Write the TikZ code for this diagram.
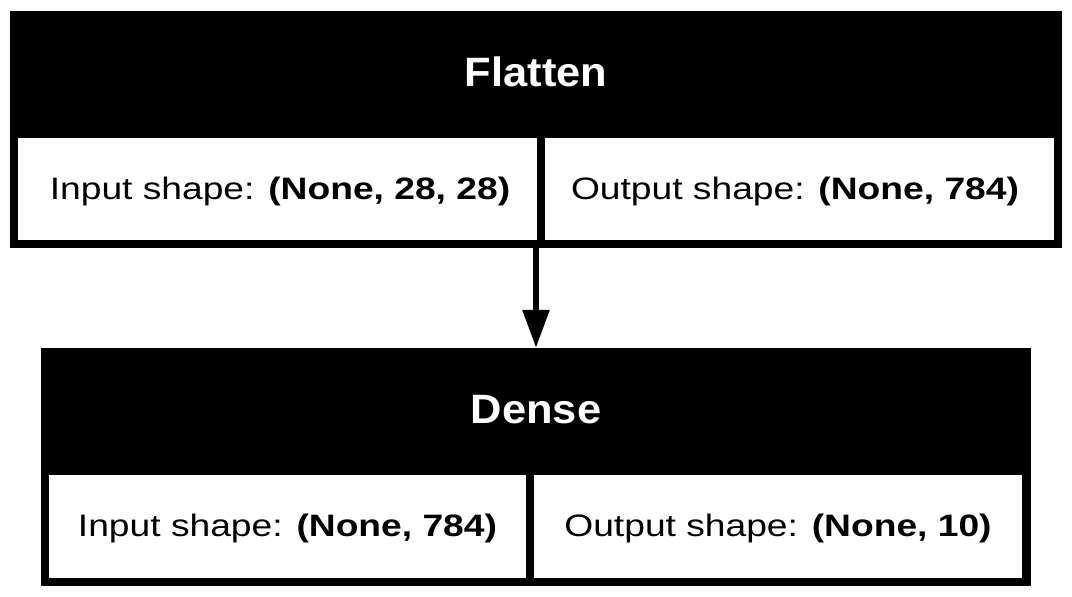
\documentclass[tikz,border=0pt]{standalone}
\usepackage{fontspec}
\usepackage{graphicx}
\setmainfont{Liberation Sans}
\usetikzlibrary{arrows.meta}
\newcommand{\celltxt}[1]{\scalebox{1.2}[1]{#1}}
\newcommand{\titletxt}[1]{\scalebox{1.06}[1]{#1}}
\tikzset{
  outerbox/.style={fill=black, draw=none, inner sep=0pt, minimum width=#1},
  cell/.style={fill=white, draw=none, inner sep=0pt},
  title/.style={text=white, inner sep=0pt, anchor=base, font=\fontsize{41}{48}\selectfont\bfseries},
  celltext/.style={inner sep=0pt, anchor=base, font=\fontsize{31}{37}\selectfont},
  conn/.style={line width=6pt, -{Triangle[length=38pt,width=26pt]}}
}
\begin{document}
\begin{tikzpicture}[x=1pt,y=-1pt]
\useasboundingbox (0,0) rectangle (1072,597);
% Flatten
\node[outerbox=1052pt, minimum height=237pt] (flatten) at (536,129.5) {};
\node[cell, minimum width=519pt, minimum height=102pt] (fin) at (277.5,189) {};
\node[cell, minimum width=509pt, minimum height=102pt] (fout) at (799.5,189) {};
\node[title] (ftitle) at (536,86) {\titletxt{Flatten}};
\node[celltext] (fintext) at (280,199) {\celltxt{Input shape: \textbf{(None, 28, 28)}}};
\node[celltext] (fouttext) at (795,199) {\celltxt{Output shape: \textbf{(None, 784)}}};
% Dense
\node[outerbox=990pt, minimum height=238pt] (dense) at (536,467) {};
\node[cell, minimum width=477pt, minimum height=103pt] (din) at (287.5,526.5) {};
\node[cell, minimum width=488pt, minimum height=103pt] (dout) at (778,526.5) {};
\node[title] (dtitle) at (536,423) {\titletxt{Dense}};
\node[celltext] (dintext) at (287.5,536) {\celltxt{Input shape: \textbf{(None, 784)}}};
\node[celltext] (douttext) at (778,536) {\celltxt{Output shape: \textbf{(None, 10)}}};
% connector
\draw[conn] (flatten.south) -- (dense.north);
\end{tikzpicture}
\end{document}
